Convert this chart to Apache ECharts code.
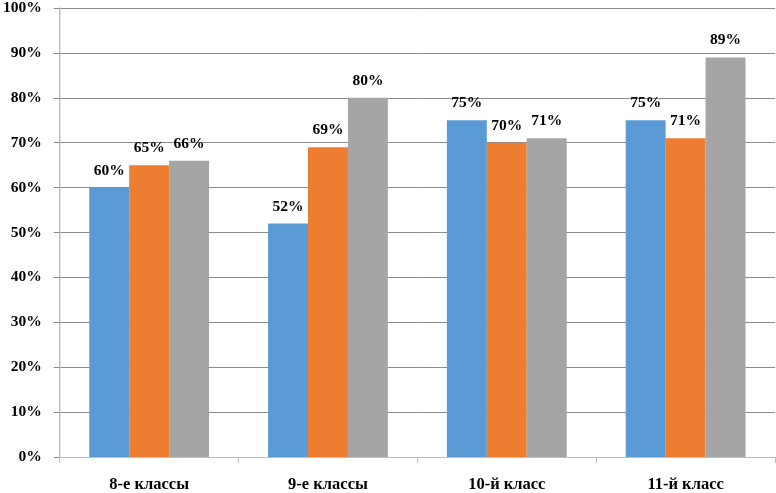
<!DOCTYPE html>
<html><head><meta charset="utf-8">
<script src="https://cdn.jsdelivr.net/npm/echarts@6/dist/echarts.min.js"></script>
<style>html,body{margin:0;padding:0;background:#fff}#c{width:776px;height:493px}</style>
</head><body><div id="c"></div>
<script>
const categories = ['8-е классы', '9-е классы', '10-й класс', '11-й класс'];
const series1 = [60, 52, 75, 75];
const series2 = [65, 69, 70, 71];
const series3 = [66, 80, 71, 89];
const yTicks = [0, 10, 20, 30, 40, 50, 60, 70, 80, 90, 100];
const colors = ['#5B9BD5', '#ED7D31', '#A5A5A5'];
const font = '"Liberation Serif", "Times New Roman", serif';
const chart = echarts.init(document.getElementById('c'));
const lbl = {show: true, position: 'top', formatter: '{c}%', fontFamily: font, fontWeight: 'bold', fontSize: 15.5, color: '#000', distance: 9};
chart.setOption({
  animation: false,
  grid: {left: 58, right: 1, top: 5.5, bottom: 33, containLabel: false},
  xAxis: {
    type: 'category', data: categories,
    axisLine: {lineStyle: {color: '#bfbfbf', width: 1}},
    axisTick: {show: true, length: 6, lineStyle: {color: '#bfbfbf'}},
    axisLabel: {fontFamily: font, fontWeight: 'bold', fontSize: 16.5, color: '#000', margin: 19}
  },
  yAxis: {
    type: 'value', min: 0, max: 100, interval: 10,
    axisLine: {show: true, lineStyle: {color: '#bfbfbf', width: 1.5}},
    axisTick: {show: true, length: 6, lineStyle: {color: '#8c8c8c'}},
    splitLine: {lineStyle: {color: '#8c8c8c', width: 1}},
    axisLabel: {formatter: function (v) { return yTicks.indexOf(v) >= 0 ? v + '%' : ''; }, fontFamily: font, fontWeight: 'bold', fontSize: 15.5, color: '#000', margin: 18}
  },
  series: [
    {type: 'bar', data: series1, itemStyle: {color: colors[0]}, barGap: '0%', barCategoryGap: '33%', label: lbl},
    {type: 'bar', data: series2, itemStyle: {color: colors[1]}, label: lbl},
    {type: 'bar', data: series3, itemStyle: {color: colors[2]}, label: lbl}
  ]
});
</script></body></html>
